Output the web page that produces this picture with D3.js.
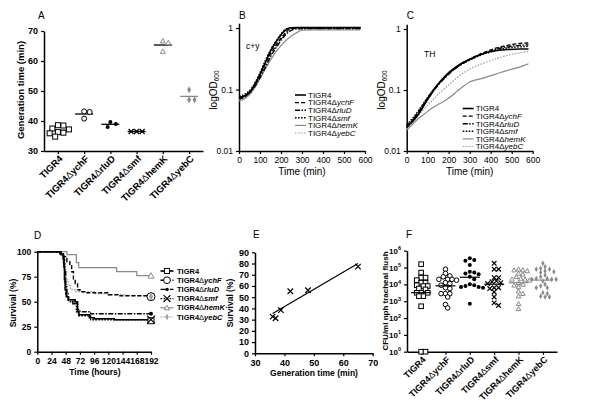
<!DOCTYPE html>
<html><head><meta charset="utf-8">
<script src="https://cdn.jsdelivr.net/npm/d3@7"></script>
<style>body{margin:0;background:#fff}svg{display:block}text{font-family:"Liberation Sans",Arial,sans-serif}</style>
</head><body>
<svg id="c" width="600" height="406"></svg>
<script>
// ---------------- DATA ----------------
const strains = ["TIGR4","ychF","rluD","smf","hemK","yebC"];
// Panel A: generation time (min)
const genTIGR4 = [38.6,38.5,37.5,37.2,36.3,36.1,35.9,34.8];
const genYchF  = [43.2,43.0,40.8];
const genRluD  = [39.7,39.0,38.0];
const genSmf   = [36.5,36.5,36.5];
const genHemK  = [66.7,66.1,63.2];
const genYebC  = [50.4,47.1,47.1];
const genTicks = [30,40,50,60,70];
// Panels B/C: growth curves (OD600)
const timeMin = [0,30,60,90,120,150,180,210,240,270,300,360,420,480,540,580];
const cyTIGR4 = [0.075,0.08,0.10,0.15,0.25,0.42,0.62,0.85,1.0,1.02,1.02,1.02,1.02,1.02,1.02,1.02];
const cyYchF  = [0.070,0.077,0.098,0.145,0.24,0.38,0.55,0.75,0.95,1.0,1.0,1.0,1.0,1.0,1.0,1.0];
const cyRluD  = [0.072,0.078,0.095,0.135,0.21,0.34,0.50,0.70,0.88,0.97,0.98,0.98,0.98,0.98,0.98,0.98];
const cySmf   = [0.078,0.085,0.105,0.16,0.27,0.44,0.64,0.88,1.0,1.0,1.0,1.0,1.0,1.0,1.0,1.0];
const cyHemK  = [0.065,0.072,0.09,0.13,0.20,0.30,0.43,0.56,0.70,0.82,0.92,0.93,0.93,0.93,0.93,0.93];
const cyYebC  = [0.068,0.075,0.095,0.14,0.22,0.35,0.52,0.72,0.90,0.95,0.95,0.95,0.95,0.95,0.95,0.95];
const thTIGR4 = [0.025,0.031,0.042,0.062,0.09,0.125,0.165,0.205,0.245,0.285,0.32,0.39,0.44,0.46,0.47,0.47];
const thYchF  = [0.026,0.033,0.046,0.066,0.093,0.125,0.16,0.20,0.24,0.28,0.32,0.40,0.48,0.54,0.58,0.59];
const thRluD  = [0.024,0.032,0.045,0.063,0.088,0.12,0.155,0.195,0.235,0.275,0.31,0.39,0.46,0.51,0.54,0.55];
const thSmf   = [0.027,0.035,0.048,0.068,0.094,0.125,0.16,0.20,0.24,0.275,0.31,0.38,0.44,0.49,0.51,0.52];
const thHemK  = [0.022,0.028,0.035,0.042,0.05,0.058,0.066,0.078,0.095,0.115,0.135,0.155,0.18,0.21,0.24,0.27];
const thYebC  = [0.023,0.030,0.040,0.052,0.066,0.085,0.105,0.13,0.16,0.19,0.22,0.27,0.32,0.37,0.41,0.43];
const odTicks = [0.01,0.1,1];
const timeTicks = [0,100,200,300,400,500,600];
// Panel D: survival (hours, %)
const survTIGR4 = [[0,100],[38,98],[44,95],[45,85],[46,72],[47,62],[49,55],[52,52],[64,50],[68,40],[70,37],[88,34],[96,33],[130,32],[192,31]];
const survYchF  = [[0,100],[40,98],[45,95],[50,90],[55,86],[58,80],[61,72],[64,68],[68,62],[72,60],[84,59],[120,57],[136,56],[192,55]];
const survRluD  = [[0,100],[40,97],[44,92],[46,80],[48,65],[50,55],[53,50],[60,48],[68,42],[72,40],[90,38],[192,38]];
const survSmf   = [[0,100],[40,97],[44,88],[46,70],[48,58],[52,52],[60,50],[66,40],[70,36],[90,32],[192,32]];
const survHemK  = [[0,100],[50,97],[66,89],[70,84],[134,80],[168,76],[192,76]];
const survYebC  = [[0,100],[38,98],[42,92],[45,82],[48,72],[52,66],[56,62],[64,60],[96,58],[120,57],[150,56],[192,55]];
const hourTicks = [0,24,48,72,96,120,144,168,192];
const survTicks = [0,25,50,75,100];
// Panel E
const eGen  = [37.0,36.0,38.8,42.0,48.0,65.0];
const eSurv = [31.2,32.7,38.5,55.3,56.2,77.2];
const eXTicks = [30,40,50,60,70];
const eYTicks = [0,10,20,30,40,50,60,70,80,90];
// Panel F: log10 CFU/ml
const cfuTIGR4 = [5.2,4.7,4.4,4.4,4.25,4.1,4.1,3.95,3.9,3.9,3.75,3.7,3.5,3.5,3.5,3.3,3.3,2.7,0,0];
const cfuYchF  = [4.9,4.65,4.5,4.45,4.3,4.3,4.3,4.25,4.1,4.05,3.95,3.8,3.75,3.45,3.45,3.45,3.25,2.8,2.6];
const cfuRluD  = [5.55,5.45,5.4,5.15,4.75,4.7,4.65,4.6,4.45,4.3,4.0,3.95,3.9,3.85,3.85,3.8,2.85];
const cfuSmf   = [5.25,4.9,4.9,4.4,4.4,4.2,4.15,4.1,4.05,3.8,3.8,3.75,3.55,3.25,2.9,2.75];
const cfuHemK  = [4.9,4.85,4.85,4.8,4.65,4.6,4.45,4.35,4.3,4.3,4.25,4.1,4.0,3.95,3.85,3.6,3.45,3.3,2.85,2.55];
const cfuYebC  = [5.25,5.05,4.95,4.9,4.9,4.8,4.75,4.7,4.55,4.45,4.35,4.35,4.3,4.3,4.3,4.2,4.0,3.9,3.8,3.8,3.5,3.45,3.3,3.25,3.25];
const cfuTicks = [0,1,2,3,4,5,6];

// ---------------- STYLE ----------------
const GRAY = "#8a8a8a", LGRAY = "#a0a0a0";
const styles = {
  TIGR4:{color:"#000",dash:null,w:1.6,mark:"square",mean:"#000"},
  ychF:{color:"#000",dash:"4,2",w:1.4,mark:"circle",mean:"#000"},
  rluD:{color:"#000",dash:"5,1.5,1.5,1.5",w:1.4,mark:"dot",mean:"#000"},
  smf:{color:"#000",dash:"1.6,1.4",w:1.4,mark:"x",mean:"#000"},
  hemK:{color:GRAY,dash:null,w:1.2,mark:"tri",mean:"#000"},
  yebC:{color:LGRAY,dash:"1.6,1.4",w:1.2,mark:"plus",mean:GRAY}
};
const svg = d3.select("#c");

function marker(g, type, x, y, s, color){
  const sw = 1;
  if(type==="square") g.append("rect").attr("x",x-s/2).attr("y",y-s/2).attr("width",s).attr("height",s).attr("fill","#fff").attr("stroke",color).attr("stroke-width",sw);
  else if(type==="circle") g.append("circle").attr("cx",x).attr("cy",y).attr("r",s/2).attr("fill","#fff").attr("stroke",color).attr("stroke-width",sw);
  else if(type==="dot") g.append("circle").attr("cx",x).attr("cy",y).attr("r",s/2).attr("fill",color);
  else if(type==="x") g.append("path").attr("d",`M${x-s/2},${y-s/2}L${x+s/2},${y+s/2}M${x-s/2},${y+s/2}L${x+s/2},${y-s/2}`).attr("stroke",color).attr("stroke-width",1.2).attr("fill","none");
  else if(type==="tri") g.append("path").attr("d",`M${x},${y-s/2}L${x+s/2},${y+s/2*0.8}L${x-s/2},${y+s/2*0.8}Z`).attr("fill","#fff").attr("stroke",color).attr("stroke-width",sw);
  else if(type==="plus") g.append("path").attr("d",d3.symbol(d3.symbolDiamond, s*s*0.45)()).attr("transform",`translate(${x},${y})`).attr("fill",color);
}
function styleAxis(g, fs, bold){
  g.select("path.domain").attr("stroke","#000").attr("stroke-width",1.5);
  g.selectAll(".tick line").attr("stroke","#000").attr("stroke-width",1.2);
  g.selectAll(".tick text").attr("fill","#000").attr("font-size",fs).attr("font-weight",bold?"bold":"normal")
    .attr("font-family","Liberation Sans, Arial, sans-serif");
}
function catLabel(g, x, y, s, fs){
  const t = g.append("text").attr("transform",`translate(${x},${y}) rotate(-45)`).attr("text-anchor","end")
    .attr("font-size",fs).attr("font-weight","bold").attr("dy","0.35em");
  t.append("tspan").text("TIGR4");
  if(s!=="TIGR4"){ t.append("tspan").attr("font-weight","normal").text("\u0394"); t.append("tspan").text(s); }
}
function swarm(vals, cx, ys, d, tol){
  const pts = vals.map(v=>({v,y:ys(v)})).sort((a,b)=>a.y-b.y);
  const placed=[];
  pts.forEach(p=>{
    for(let k=0;k<60;k++){
      const off=(k===0?0:(k%2?1:-1)*Math.ceil(k/2))*d*0.5;
      const xx=cx+off;
      if(placed.every(q=>Math.hypot(q.x-xx,q.y-p.y)>=d*tol)){p.x=xx;placed.push(p);break;}
    }
  });
  return pts;
}
function panelLabel(t,x,y){ svg.append("text").attr("x",x).attr("y",y).attr("font-size",10).text(t); }
function yTitle(t,x,cy,fs,bold){ return svg.append("text").attr("transform",`translate(${x},${cy}) rotate(-90)`).attr("text-anchor","middle").attr("font-size",fs).attr("font-weight",bold?"bold":"normal").text(t); }
function xTitle(t,cx,y,fs,bold){ return svg.append("text").attr("x",cx).attr("y",y).attr("text-anchor","middle").attr("font-size",fs).attr("font-weight",bold?"bold":"normal").text(t); }
function legendText(g,x,y,s,fs,bold){
  const t=g.append("text").attr("x",x).attr("y",y).attr("dy","0.35em").attr("font-size",fs).attr("font-weight",bold?"bold":"normal");
  t.append("tspan").text("TIGR4");
  if(s!=="TIGR4"){ t.append("tspan").attr("font-weight","normal").text("\u0394"); t.append("tspan").attr("font-style","italic").text(s); }
}

// ---------------- PANEL A ----------------
{
  const genData = {TIGR4:genTIGR4,ychF:genYchF,rluD:genRluD,smf:genSmf,hemK:genHemK,yebC:genYebC};
  const x = d3.scalePoint().domain(strains).range([44,203]).padding(0.53);
  const y = d3.scaleLinear().domain([30,70]).range([151,31]);
  const g = svg.append("g");
  const ax = g.append("g").attr("transform","translate(0,151)").call(d3.axisBottom(x).tickSize(3).tickSizeOuter(0).tickFormat(""));
  styleAxis(ax,9,true);
  const ay = g.append("g").attr("transform","translate(44,0)").call(d3.axisLeft(y).tickValues(genTicks).tickSize(3).tickSizeOuter(0));
  styleAxis(ay,9,true);
  strains.forEach(s=>{
    const st=styles[s], cx=x(s);
    const col = (s==="hemK"||s==="yebC")?GRAY:"#000";
    const m = d3.mean(genData[s]);
    g.append("line").attr("x1",cx-9).attr("x2",cx+9).attr("y1",y(m)).attr("y2",y(m)).attr("stroke",st.mean).attr("stroke-width",1.3);
    swarm(genData[s],cx,y,5.5,0.95).forEach(p=>marker(g,st.mark,p.x,p.y,s==="rluD"?4:(s==="yebC"?5.5:5),col));
    catLabel(g,cx+3,157,s,9.5);
  });
  yTitle("Generation time (min)",24,90,9.5,true);
  panelLabel("A",38,19);
}

// ---------------- PANELS B & C ----------------
function growthPanel(x0, y1, ySeries, label, note, noteX, noteY, legY){
  const x = d3.scaleLinear().domain([0,600]).range([x0,x0+126]);
  const y = d3.scaleLog().domain([0.01,1.2]).range([151,y1-61*Math.log10(1.2)]);
  const g = svg.append("g");
  const ax = g.append("g").attr("transform","translate(0,151)").call(d3.axisBottom(x).tickValues(timeTicks).tickSize(3).tickSizeOuter(0));
  styleAxis(ax,8.5,false);
  const ay = g.append("g").attr("transform",`translate(${x0},0)`).call(d3.axisLeft(y).tickValues(odTicks).tickFormat(d3.format("~g")).tickSize(3).tickSizeOuter(0));
  styleAxis(ay,8.5,false);
  const line = d3.line().x((d,i)=>x(timeMin[i])).y(d=>y(d)).curve(d3.curveMonotoneX);
  strains.slice().reverse().forEach(s=>{
    const st=styles[s];
    g.append("path").attr("d",line(ySeries[s])).attr("fill","none").attr("stroke",st.color).attr("stroke-width",st.w).attr("stroke-dasharray",st.dash);
  });
  strains.forEach((s,i)=>{
    const st=styles[s], yy=legY+i*7.6, lx=x0+56;
    g.append("line").attr("x1",lx).attr("x2",lx+11).attr("y1",yy).attr("y2",yy).attr("stroke",st.color).attr("stroke-width",st.w).attr("stroke-dasharray",st.dash);
    legendText(g,lx+13,yy,s,8,false);
  });
  g.append("text").attr("x",noteX).attr("y",noteY).attr("font-size",8.5).text(note);
  const tt = svg.append("text").attr("transform",`translate(${x0-22},90) rotate(-90)`).attr("text-anchor","middle").attr("font-size",10);
  tt.append("tspan").text("logOD");
  tt.append("tspan").attr("font-size",6.5).attr("dy",2).text("600");
  xTitle("Time (min)",x0+63,175,10,false);
  panelLabel(label,x0,19);
}
growthPanel(239,28,{TIGR4:cyTIGR4,ychF:cyYchF,rluD:cyRluD,smf:cySmf,hemK:cyHemK,yebC:cyYebC},"B","c+y",246,49,95);
growthPanel(406.7,29,{TIGR4:thTIGR4,ychF:thYchF,rluD:thRluD,smf:thSmf,hemK:thHemK,yebC:thYebC},"C","TH",424,57,108.5);

// ---------------- PANEL D ----------------
{
  const survData={TIGR4:survTIGR4,ychF:survYchF,rluD:survRluD,smf:survSmf,hemK:survHemK,yebC:survYebC};
  const x = d3.scaleLinear().domain([0,192]).range([37.3,151]);
  const y = d3.scaleLinear().domain([0,100]).range([351.7,251.7]);
  const g = svg.append("g");
  const ax = g.append("g").attr("transform","translate(0,351.7)").call(d3.axisBottom(x).tickValues(hourTicks).tickSize(3).tickSizeOuter(0));
  styleAxis(ax,8.5,true);
  const ay = g.append("g").attr("transform","translate(37.3,0)").call(d3.axisLeft(y).tickValues(survTicks).tickSize(3).tickSizeOuter(0));
  styleAxis(ay,8.5,true);
  const line = d3.line().x(d=>x(d[0])).y(d=>y(d[1])).curve(d3.curveStepAfter);
  const markSize={square:6,circle:8,dot:4,x:8,tri:6,plus:6};
  strains.slice().reverse().forEach(s=>{
    const st=styles[s];
    g.append("path").attr("d",line(survData[s])).attr("fill","none").attr("stroke",st.color).attr("stroke-width",st.w).attr("stroke-dasharray",st.dash);
  });
  strains.forEach(s=>{
    const st=styles[s], last=survData[s][survData[s].length-1];
    marker(g,st.mark,x(last[0]),y(last[1]),markSize[st.mark],st.color);
  });
  strains.forEach((s,i)=>{
    const st=styles[s], yy=271+i*9.2;
    g.append("line").attr("x1",160.5).attr("x2",173.5).attr("y1",yy).attr("y2",yy).attr("stroke",st.color).attr("stroke-width",st.w).attr("stroke-dasharray",st.dash);
    marker(g,st.mark,167,yy,markSize[st.mark]*0.85,st.color);
    legendText(g,177,yy,s,7.5,true);
  });
  yTitle("Survival (%)",16,303,8.5,true);
  xTitle("Time (hours)",95,375,8.5,true);
  panelLabel("D",34,239);
}

// ---------------- PANEL E ----------------
{
  const x = d3.scaleLinear().domain([30,70]).range([255,372.7]);
  const y = d3.scaleLinear().domain([0,90]).range([353.3,252.3]);
  const g = svg.append("g");
  const ax = g.append("g").attr("transform","translate(0,353.3)").call(d3.axisBottom(x).tickValues(eXTicks).tickSize(3).tickSizeOuter(0));
  styleAxis(ax,9,true);
  const ay = g.append("g").attr("transform","translate(255,0)").call(d3.axisLeft(y).tickValues(eYTicks).tickSize(3).tickSizeOuter(0));
  styleAxis(ay,9,true);
  const mx=d3.mean(eGen), my=d3.mean(eSurv);
  const slope=d3.sum(eGen,(v,i)=>(v-mx)*(eSurv[i]-my))/d3.sum(eGen,v=>(v-mx)*(v-mx));
  const [xa,xb]=d3.extent(eGen);
  g.append("line").attr("x1",x(xa)).attr("x2",x(xb)).attr("y1",y(my+slope*(xa-mx))).attr("y2",y(my+slope*(xb-mx))).attr("stroke","#000").attr("stroke-width",1.2);
  eGen.forEach((v,i)=>marker(g,"x",x(v),y(eSurv[i]),5.5,"#000"));
  yTitle("Survival (%)",233,303,8.5,true);
  xTitle("Generation time (min)",314,376,8.5,true);
  panelLabel("E",253,238);
}

// ---------------- PANEL F ----------------
{
  const cfuData={TIGR4:cfuTIGR4,ychF:cfuYchF,rluD:cfuRluD,smf:cfuSmf,hemK:cfuHemK,yebC:cfuYebC};
  const x = d3.scalePoint().domain(strains).range([407,557]).padding(0.58);
  const y = d3.scaleLinear().domain([0,6]).range([351.7,250.7]);
  const g = svg.append("g");
  const ax = g.append("g").attr("transform","translate(0,351.7)").call(d3.axisBottom(x).tickSize(3).tickSizeOuter(0).tickFormat(""));
  styleAxis(ax,9,true);
  const ay = g.append("g").attr("transform","translate(407,0)").call(d3.axisLeft(y).tickValues(cfuTicks).tickSize(3).tickSizeOuter(0).tickFormat(""));
  styleAxis(ay,8,true);
  ay.selectAll(".tick text").each(function(d){
    const t=d3.select(this).text("10");
    t.append("tspan").attr("dy",-3.5).attr("font-size",5.5).text(d);
  });
  strains.forEach(s=>{
    const st=styles[s], cx=x(s);
    const col=(s==="hemK"||s==="yebC")?GRAY:"#000";
    const m=d3.mean(cfuData[s]);
    const sz = s==="rluD"?4:(s==="yebC"?4.5:4.6);
    swarm(cfuData[s],cx,y,4.4,0.85).forEach(p=>marker(g,st.mark,p.x,p.y,sz,col));
    g.append("line").attr("x1",cx-10).attr("x2",cx+10).attr("y1",y(m)).attr("y2",y(m)).attr("stroke",s==="hemK"||s==="yebC"?GRAY:"#000").attr("stroke-width",1.2);
    catLabel(g,cx+3,358,s,9);
  });
  yTitle("CFU/ml nph tracheal flush",388,301,8,true);
  panelLabel("F",406,238);
}
</script>
</body></html>
